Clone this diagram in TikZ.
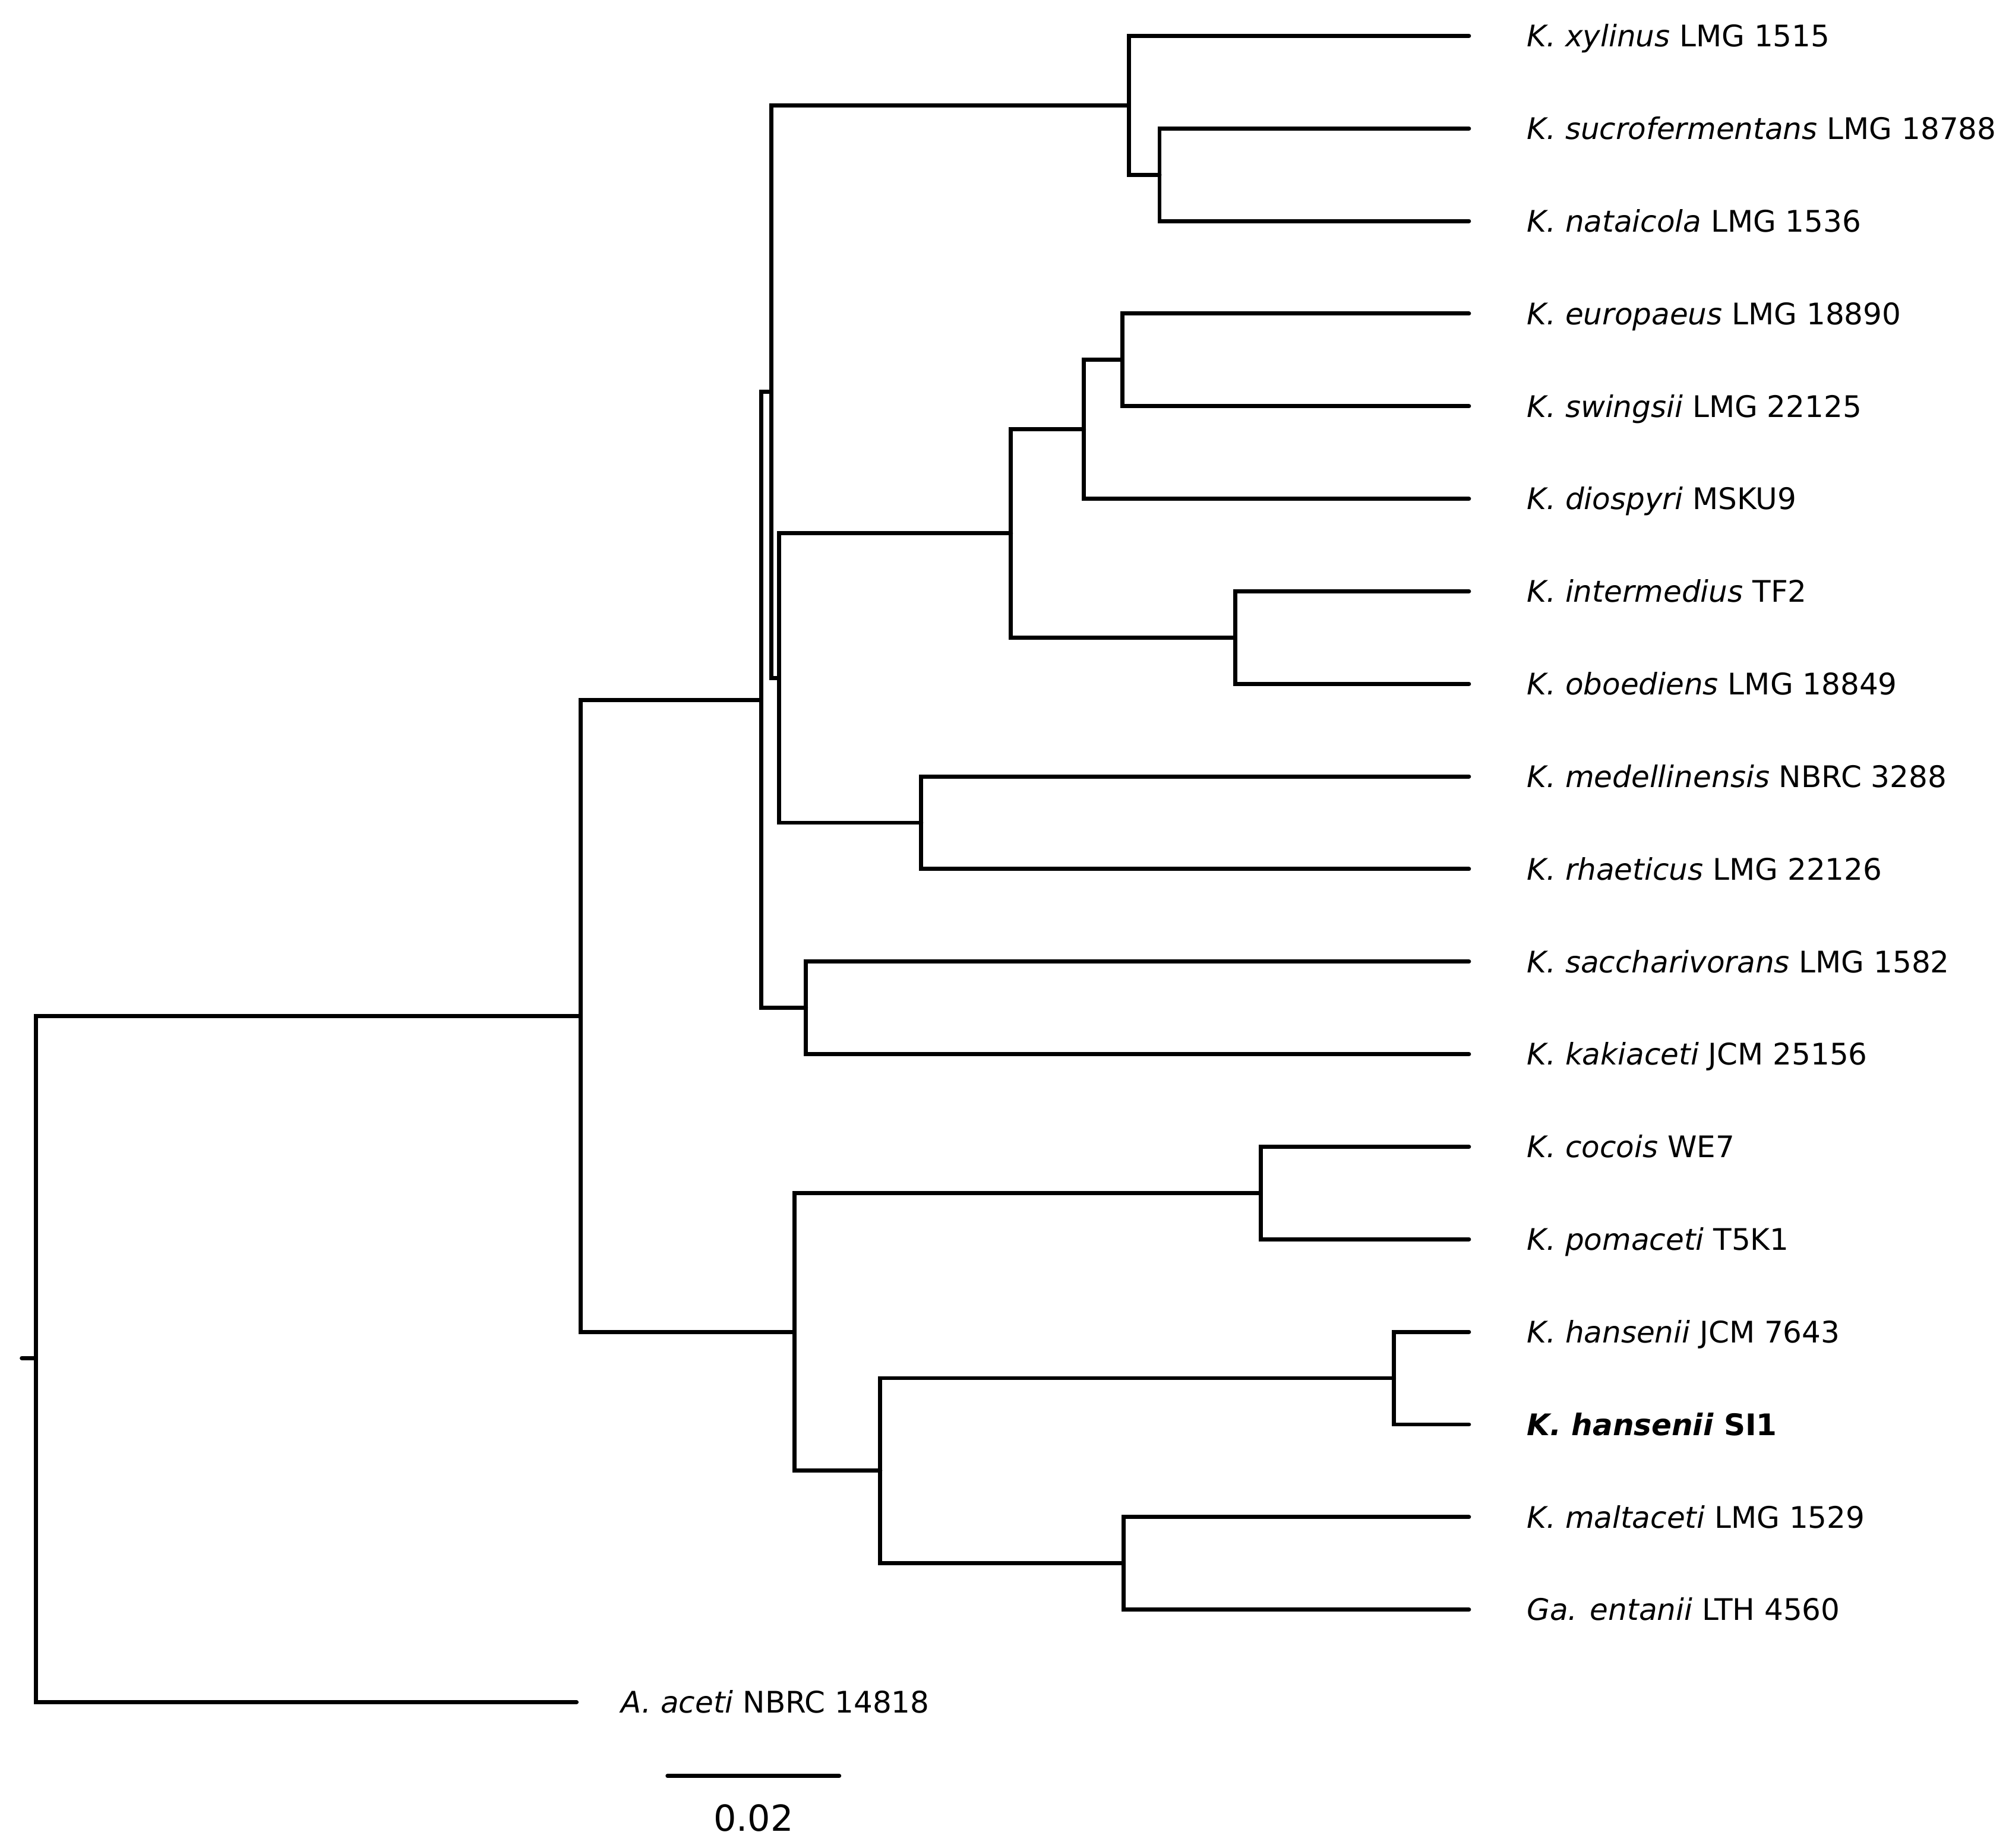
\documentclass[tikz,border=0pt]{standalone}
\usepackage{fontspec}
\setmainfont{DejaVu Sans}
\usetikzlibrary{positioning}

\begin{document}
\begin{tikzpicture}[x=0.5pt, y=-0.5pt, line width=1.6pt, line cap=round, node distance=21.8pt,
  leaf/.style = {inner sep=0pt, text height=8.5pt, text depth=0pt, font=\fontsize{11.6}{13}\selectfont}]
\useasboundingbox (0,0) rectangle (1568,1442);

% tip ends
\coordinate (t1) at (1146.5,28);
\coordinate (t2) at (1146.5,100.25);
\coordinate (t3) at (1146.5,172.5);
\coordinate (t4) at (1146.5,244.75);
\coordinate (t5) at (1146.5,317);
\coordinate (t6) at (1146.5,389.25);
\coordinate (t7) at (1146.5,461.5);
\coordinate (t8) at (1146.5,533.75);
\coordinate (t9) at (1146.5,606);
\coordinate (t10) at (1146.5,678.25);
\coordinate (t11) at (1146.5,750.5);
\coordinate (t12) at (1146.5,822.75);
\coordinate (t13) at (1146.5,895);
\coordinate (t14) at (1146.5,967.25);
\coordinate (t15) at (1146.5,1039.5);
\coordinate (t16) at (1146.5,1111.75);
\coordinate (t17) at (1146.5,1184);
\coordinate (t18) at (1146.5,1256.25);
\coordinate (t19) at (450,1328.5);

% labels
\node[leaf, right=of t1] (xylinus) {\textit{K. xylinus} LMG 1515};
\node[leaf, right=of t2] (sucro) {\textit{K. sucrofermentans} LMG 18788};
\node[leaf, right=of t3] (nataicola) {\textit{K. nataicola} LMG 1536};
\node[leaf, right=of t4] (europaeus) {\textit{K. europaeus} LMG 18890};
\node[leaf, right=of t5] (swingsii) {\textit{K. swingsii} LMG 22125};
\node[leaf, right=of t6] (diospyri) {\textit{K. diospyri} MSKU9};
\node[leaf, right=of t7] (intermedius) {\textit{K. intermedius} TF2};
\node[leaf, right=of t8] (oboediens) {\textit{K. oboediens} LMG 18849};
\node[leaf, right=of t9] (medellin) {\textit{K. medellinensis} NBRC 3288};
\node[leaf, right=of t10] (rhaeticus) {\textit{K. rhaeticus} LMG 22126};
\node[leaf, right=of t11] (sacchari) {\textit{K. saccharivorans} LMG 1582};
\node[leaf, right=of t12] (kakiaceti) {\textit{K. kakiaceti} JCM 25156};
\node[leaf, right=of t13] (cocois) {\textit{K. cocois} WE7};
\node[leaf, right=of t14] (pomaceti) {\textit{K. pomaceti} T5K1};
\node[leaf, right=of t15] (hansJCM) {\textit{K. hansenii} JCM 7643};
\node[leaf, right=of t16] (hansSI) {\textbf{\textit{K. hansenii} SI1}};
\node[leaf, right=of t17] (maltaceti) {\textit{K. maltaceti} LMG 1529};
\node[leaf, right=of t18] (entanii) {\textit{Ga. entanii} LTH 4560};
\node[leaf, right=16.5pt of t19] (aceti) {\textit{A. aceti} NBRC 14818};

% inner nodes
\coordinate (nD) at (905,136.4);
\coordinate (nC) at (881,82.2);
\coordinate (nH) at (876,280.9);
\coordinate (nG) at (846,335.1);
\coordinate (nI) at (964,497.6);
\coordinate (nF) at (789,416.3);
\coordinate (nJ) at (719,642.1);
\coordinate (nE) at (608,529.2);
\coordinate (nB) at (602,305.7);
\coordinate (nK) at (629,786.6);
\coordinate (nA) at (594,546.2);
\coordinate (nM) at (984,931.1);
\coordinate (nO) at (1088,1075.6);
\coordinate (nP) at (877,1220.1);
\coordinate (nN) at (687,1147.9);
\coordinate (nL) at (620,1039.5);
\coordinate (nIn) at (453,792.9);
\coordinate (root) at (28,1060);
\coordinate (stub) at (17,1060);

% branches
\draw (t2) -| (nD) |- (t3);
\draw (t1) -| (nC) |- (nD);
\draw (t4) -| (nH) |- (t5);
\draw (nH) -| (nG) |- (t6);
\draw (t7) -| (nI) |- (t8);
\draw (nG) -| (nF) |- (nI);
\draw (t9) -| (nJ) |- (t10);
\draw (nF) -| (nE) |- (nJ);
\draw (nC) -| (nB) |- (nE);
\draw (t11) -| (nK) |- (t12);
\draw (nB) -| (nA) |- (nK);
\draw (t13) -| (nM) |- (t14);
\draw (t15) -| (nO) |- (t16);
\draw (t17) -| (nP) |- (t18);
\draw (nO) -| (nN) |- (nP);
\draw (nM) -| (nL) |- (nN);
\draw (nA) -| (nIn) |- (nL);
\draw (nIn) -| (root) |- (t19);
\draw (stub) -- (root);

% scale bar
\coordinate (s1) at (521,1386);
\coordinate (s2) at (655,1386);
\draw (s1) -- (s2);
\node[inner sep=0pt, text height=10.2pt, text depth=0pt, font=\fontsize{14}{16}\selectfont] (scale) at (588,1419) {0.02};
\end{tikzpicture}
\end{document}
